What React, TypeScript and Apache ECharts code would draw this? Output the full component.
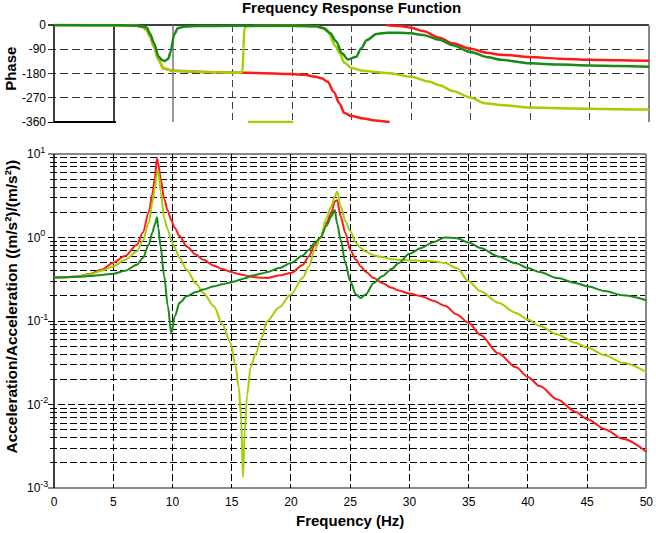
import React, { useEffect, useRef } from "react";
import * as echarts from "echarts";

// ---------- magnitude data (Hz, (m/s²)/(m/s²)) ----------
const freqMag = [0, 1, 2, 3, 4, 5, 6, 7, 7.5, 8, 8.3, 8.5, 8.7, 8.8, 9, 9.3, 9.6, 9.9, 10.2, 10.6, 11.2, 12, 12.6, 13.5, 14.2, 14.9, 15.3, 15.6, 15.8, 15.95, 16.1, 16.3, 16.6, 17, 17.5, 18, 19, 20, 21, 21.5, 22, 22.5, 23, 23.4, 23.7, 23.9, 24.2, 24.6, 25, 25.5, 25.9, 26.3, 27, 27.7, 28.5, 29.1, 30, 31, 32, 33, 34, 35, 36, 37.5, 39, 40, 41, 42.5, 44, 45, 46.5, 48, 50];
const redMag = [0.333, 0.335, 0.342, 0.365, 0.41, 0.5, 0.6, 0.82, 1.15, 2.0, 3.3, 5.0, 8.9, 7.7, 5.1, 2.9, 2.1, 1.6, 1.3, 1.04, 0.78, 0.62, 0.54, 0.46, 0.42, 0.39, 0.375, 0.365, 0.36, 0.356, 0.352, 0.347, 0.34, 0.335, 0.33, 0.328, 0.35, 0.376, 0.47, 0.594, 0.8, 1.0, 1.49, 1.96, 2.7, 2.8, 1.78, 1.13, 0.71, 0.54, 0.45, 0.39, 0.327, 0.286, 0.25, 0.232, 0.213, 0.198, 0.175, 0.152, 0.12, 0.095, 0.068, 0.041, 0.0279, 0.0214, 0.0166, 0.0115, 0.0082, 0.0067, 0.00507, 0.00389, 0.00272];
const yellowMag = [0.333, 0.334, 0.34, 0.36, 0.4, 0.45, 0.54, 0.68, 0.92, 1.5, 2.6, 3.8, 5.8, 6.3, 3.55, 1.7, 1.25, 0.93, 0.75, 0.57, 0.41, 0.28, 0.217, 0.15, 0.092, 0.055, 0.03, 0.016, 0.007, 0.00135, 0.0047, 0.013, 0.028, 0.04, 0.062, 0.1, 0.145, 0.207, 0.33, 0.45, 0.71, 1.0, 1.71, 2.36, 3.1, 3.55, 2.36, 1.56, 1.2, 0.86, 0.75, 0.68, 0.61, 0.583, 0.55, 0.54, 0.532, 0.527, 0.52, 0.494, 0.43, 0.3, 0.227, 0.165, 0.125, 0.104, 0.087, 0.069, 0.055, 0.048, 0.0389, 0.0316, 0.0245];
const greenMag = [0.333, 0.335, 0.338, 0.345, 0.355, 0.369, 0.4, 0.473, 0.57, 0.82, 1.14, 1.42, 1.75, 1.31, 0.78, 0.345, 0.153, 0.072, 0.114, 0.165, 0.198, 0.222, 0.238, 0.26, 0.275, 0.29, 0.3, 0.31, 0.315, 0.32, 0.325, 0.33, 0.345, 0.355, 0.37, 0.385, 0.43, 0.494, 0.61, 0.71, 0.86, 1.0, 1.38, 1.78, 2.14, 1.46, 0.94, 0.494, 0.3, 0.207, 0.189, 0.207, 0.286, 0.343, 0.42, 0.494, 0.64, 0.75, 0.88, 1.0, 0.98, 0.873, 0.75, 0.594, 0.49, 0.43, 0.386, 0.327, 0.286, 0.261, 0.229, 0.203, 0.177];

// ---------- phase data (Hz, degrees) ----------
const redPhaseFreqA = [0, 5, 6, 7, 7.5, 7.8, 8.1, 8.4, 8.8, 9.2, 10, 12.6, 15, 17, 20, 21, 22, 22.5, 23, 23.5, 24, 24.4, 25, 26, 27, 28.2];
const redPhaseA = [0, 0, -1, -3, -8, -19, -45, -81, -130, -161, -170, -174, -177, -178, -182, -185, -192, -198, -211, -248, -292, -327, -338, -347, -354, -360];
const redPhaseFreqB = [27.9, 29, 30, 31, 32.4, 33.5, 35, 36.4, 37.5, 40, 42.5, 45, 47.5, 50];
const redPhaseB = [0, -4, -10, -22, -47, -68, -88, -103, -110, -119, -125, -129, -131, -133];
const greenPhaseFreq = [0, 6, 7, 7.5, 7.8, 8.1, 8.4, 8.8, 9.1, 9.3, 9.6, 9.8, 10.1, 10.4, 11, 12, 15, 20, 22, 22.7, 23.2, 23.7, 24.2, 24.7, 25.4, 25.8, 26.3, 27.1, 28, 29, 30, 31, 32.4, 33.5, 35, 36.5, 37.5, 40, 42.5, 45, 47.5, 50];
const greenPhase = [0, -1, -3, -6, -10, -35, -68, -118, -130, -134, -125, -99, -35, -12, -6, -4, -3, -3, -5, -12, -30, -60, -105, -128, -118, -87, -56, -33, -29, -29, -31, -37, -55, -75, -100, -120, -129, -142, -147, -150, -152, -155];
const yellowPhaseFreq = [0, 6, 7, 7.5, 7.8, 8.1, 8.4, 8.8, 9.2, 10, 12.6, 15, 15.7, 15.85, 15.92, 16, 16.2, 17, 20, 22, 22.5, 23, 23.7, 24, 24.4, 25, 26, 27, 28, 30, 31.5, 32.4, 33.5, 35, 36.2, 37.5, 40, 42.5, 45, 47.5, 50];
const yellowPhase = [0, -1, -3, -8, -19, -45, -81, -130, -161, -170, -174, -177, -178, -170, -90, -12, -5, -4, -3, -5, -10, -25, -81, -105, -140, -160, -170, -174, -178, -192, -210, -224, -245, -269, -290, -297, -306, -309, -311, -313, -314];
const yellowWrapFreq = [16.3, 20.1];
const yellowWrapPhase = [-360, -360];
const blackWrapFreq = [0, 5.2];
const blackWrapPhase = [-360, -360];

// ---------- axis ticks ----------
const phaseTicks = [0, -90, -180, -270, -360];
const freqTicks = [0, 5, 10, 15, 20, 25, 30, 35, 40, 45, 50];
const decades = [0.001, 0.01, 0.1, 1, 10];
const minorSteps = [2, 3, 4, 5, 6, 7, 8, 9];

const RED = "#ff1a1a";
const YELLOW = "#a2d000";
const GREEN = "#188a18";
const FONT = "'Liberation Sans', Arial, Helvetica, sans-serif";

type Rule = {
  dir: "h" | "v";
  value: number;
  color: string;
  width: number;
  dash?: number[];
  tick?: number;
  tickOnly?: boolean;
};

const zip = (xs: number[], ys: number[]) => xs.map((x, i) => [x, ys[i]]);

function rulesSeries(idx: number, rules: Rule[], refY: number) {
  return {
    type: "custom",
    xAxisIndex: idx,
    yAxisIndex: idx,
    silent: true,
    z: 1,
    clip: false,
    data: rules.map((r) => (r.dir === "h" ? [0, r.value] : [r.value, refY])),
    renderItem: (params: any, api: any) => {
      const r = rules[params.dataIndex];
      const cs = params.coordSys;
      const crisp = (v: number) =>
        Math.round(r.width) % 2 === 1 ? Math.round(v - 0.5) + 0.5 : Math.round(v);
      const style: any = { stroke: r.color, lineWidth: r.width, fill: null };
      if (r.dash) style.lineDash = r.dash;
      if (r.dir === "h") {
        const p = api.coord([0, r.value]);
        const y = crisp(p[1]);
        const x1 = cs.x - (r.tick || 0);
        const x2 = r.tickOnly ? cs.x : cs.x + cs.width;
        return { type: "line", shape: { x1, y1: y, x2, y2: y }, style };
      }
      const p = api.coord([r.value, refY]);
      const x = crisp(p[0]);
      return {
        type: "line",
        shape: { x1: x, y1: cs.y, x2: x, y2: cs.y + cs.height },
        style,
      };
    },
  };
}

export default function App() {
  const ref = useRef<HTMLDivElement>(null);

  useEffect(() => {
    if (!ref.current) return;
    const chart = echarts.init(ref.current, undefined, { renderer: "svg" });

    // phase rules
    const phaseRules: Rule[] = [];
    phaseTicks.forEach((t) => {
      if (t === 0) phaseRules.push({ dir: "h", value: t, color: "#000", width: 1.5, tick: 6 });
      else if (t === -360) phaseRules.push({ dir: "h", value: t, color: "#000", width: 1, tick: 6, tickOnly: true });
      else phaseRules.push({ dir: "h", value: t, color: "#333", width: 1, dash: [8, 4], tick: 6 });
    });
    freqTicks.forEach((f) => {
      if (f === 0) phaseRules.push({ dir: "v", value: f, color: "#000", width: 1.5 });
      else if (f === 5) phaseRules.push({ dir: "v", value: f, color: "#000", width: 1.5 });
      else if (f === 10) phaseRules.push({ dir: "v", value: f, color: "#777", width: 1.5 });
      else if (f === 50) phaseRules.push({ dir: "v", value: f, color: "#888", width: 2 });
      else phaseRules.push({ dir: "v", value: f, color: "#444", width: 1, dash: [7, 4] });
    });

    // magnitude rules
    const magRules: Rule[] = [];
    decades.slice(0, 4).forEach((d) => {
      minorSteps.forEach((m) => {
        magRules.push({ dir: "h", value: m * d, color: "#000", width: 1, dash: [7, 3], tick: 4 });
      });
    });
    decades.forEach((d, i) => {
      if (i === 0 || i === decades.length - 1)
        magRules.push({ dir: "h", value: d, color: "#888", width: 2, tick: 6 });
      else magRules.push({ dir: "h", value: d, color: "#000", width: 1, dash: [7, 3], tick: 6 });
    });
    freqTicks.forEach((f) => {
      if (f === 0) magRules.push({ dir: "v", value: f, color: "#000", width: 1.5 });
      else if (f === 50) magRules.push({ dir: "v", value: f, color: "#888", width: 2 });
      else magRules.push({ dir: "v", value: f, color: "#000", width: 1, dash: [7, 3] });
    });

    const lineSeries = (
      name: string,
      data: number[][],
      color: string,
      idx: number,
      width: number,
      z: number
    ) => ({
      name,
      type: "line",
      xAxisIndex: idx,
      yAxisIndex: idx,
      data,
      showSymbol: false,
      symbol: "none",
      smooth: 0.3,
      smoothMonotone: "x",
      z,
      lineStyle: { color, width },
      itemStyle: { color },
    });

    const option: any = {
      animation: false,
      backgroundColor: "#fff",
      textStyle: { fontFamily: FONT },
      grid: [
        { left: 54, top: 25, width: 595, height: 97 },
        { left: 54, top: 154, width: 595, height: 335 },
      ],
      xAxis: [
        {
          gridIndex: 0,
          type: "value",
          min: 0,
          max: 50,
          interval: 5,
          axisLine: { show: false },
          axisTick: { show: false },
          axisLabel: { show: false },
          splitLine: { show: false },
        },
        {
          gridIndex: 1,
          type: "value",
          min: 0,
          max: 50,
          interval: 5,
          axisLine: { show: false },
          axisTick: { show: false },
          splitLine: { show: false },
          axisLabel: { color: "#000", fontSize: 12, fontFamily: FONT, margin: 8 },
          name: "Frequency (Hz)",
          nameLocation: "middle",
          nameGap: 25,
          nameTextStyle: { color: "#000", fontSize: 15, fontWeight: "bold", fontFamily: FONT },
        },
      ],
      yAxis: [
        {
          gridIndex: 0,
          type: "value",
          min: -360,
          max: 0,
          interval: 90,
          axisLine: { show: false },
          axisTick: { show: false },
          splitLine: { show: false },
          axisLabel: { color: "#000", fontSize: 12, fontFamily: FONT, margin: 8 },
        },
        {
          gridIndex: 1,
          type: "log",
          logBase: 10,
          min: decades[0],
          max: decades[decades.length - 1],
          axisLine: { show: false },
          axisTick: { show: false },
          splitLine: { show: false },
          minorSplitLine: { show: false },
          axisLabel: {
            color: "#000",
            fontFamily: FONT,
            align: "left",
            margin: 27,
            formatter: (v: number) => `{b|10}{s|${Math.round(Math.log10(v))}}`,
            rich: {
              b: { fontSize: 12, lineHeight: 18, fontFamily: FONT, color: "#000" },
              s: { fontSize: 9, lineHeight: 10, verticalAlign: "top", fontFamily: FONT, color: "#000" },
            },
          },
        },
      ],
      graphic: [
        {
          type: "text",
          x: 351.5,
          y: 0,
          silent: true,
          style: {
            text: "Frequency Response Function",
            font: `bold 15px ${FONT}`,
            fill: "#000",
            align: "center",
            verticalAlign: "top",
          },
        },
        {
          type: "text",
          x: 10.5,
          y: 68.7,
          rotation: Math.PI / 2,
          silent: true,
          style: {
            text: "Phase",
            font: `bold 15px ${FONT}`,
            fill: "#000",
            align: "center",
            verticalAlign: "middle",
          },
        },
        {
          type: "text",
          x: 11,
          y: 306.7,
          rotation: Math.PI / 2,
          silent: true,
          style: {
            text: "Acceleration/Acceleration ((m/s²)/(m/s²))",
            font: `bold 15.5px ${FONT}`,
            fill: "#000",
            align: "center",
            verticalAlign: "middle",
          },
        },
      ],
      series: [
        rulesSeries(0, phaseRules, -180),
        rulesSeries(1, magRules, 1),
        lineSeries("red-phase-a", zip(redPhaseFreqA, redPhaseA), RED, 0, 2.5, 2),
        lineSeries("red-phase-b", zip(redPhaseFreqB, redPhaseB), RED, 0, 2.5, 2),
        lineSeries("yellow-phase", zip(yellowPhaseFreq, yellowPhase), YELLOW, 0, 2.5, 3),
        lineSeries("yellow-wrap", zip(yellowWrapFreq, yellowWrapPhase), YELLOW, 0, 2.5, 3),
        lineSeries("black-wrap", zip(blackWrapFreq, blackWrapPhase), "#000", 0, 2, 3),
        lineSeries("green-phase", zip(greenPhaseFreq, greenPhase), GREEN, 0, 2.5, 4),
        lineSeries("red-mag", zip(freqMag, redMag), RED, 1, 2, 2),
        lineSeries("yellow-mag", zip(freqMag, yellowMag), YELLOW, 1, 2, 3),
        lineSeries("green-mag", zip(freqMag, greenMag), GREEN, 1, 2, 4),
      ],
    };

    chart.setOption(option);
    return () => chart.dispose();
  }, []);

  return (
    <div
      ref={ref}
      style={{ position: "absolute", left: 0, top: 0, width: 656, height: 533, background: "#fff" }}
    />
  );
}
